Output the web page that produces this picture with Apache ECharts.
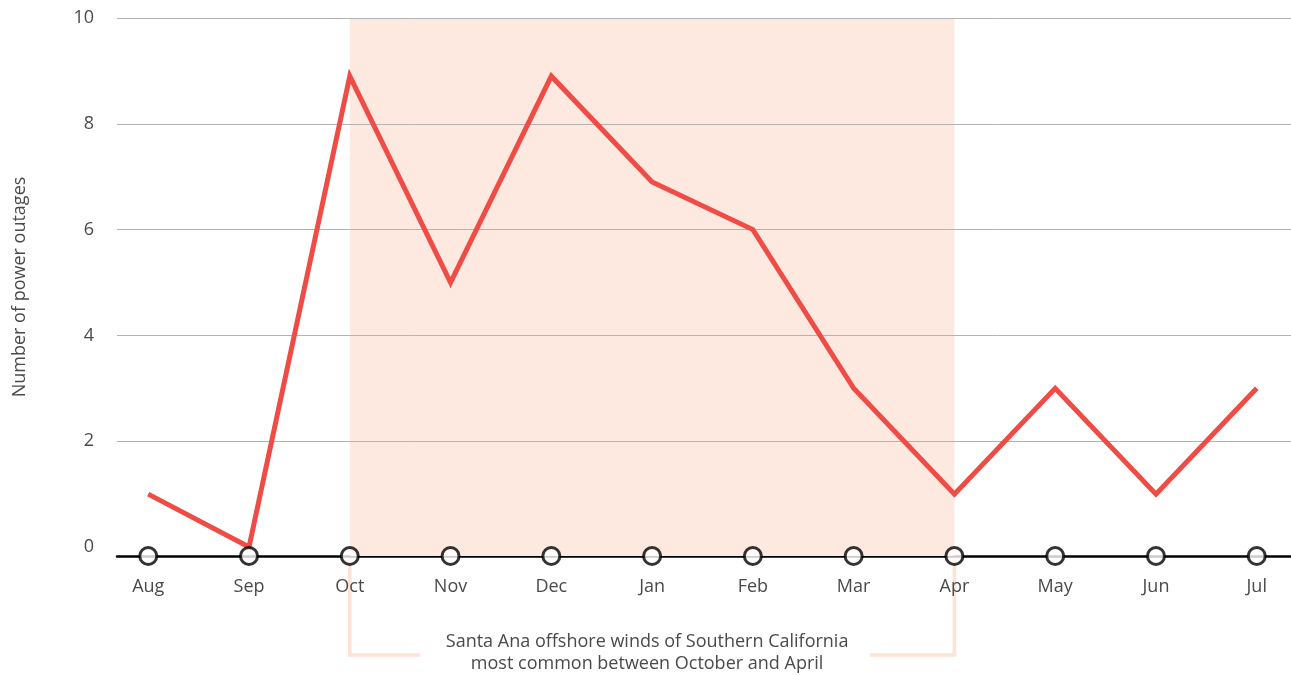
<!DOCTYPE html>
<html>
<head>
<meta charset="utf-8">
<script src="https://cdn.jsdelivr.net/npm/echarts@6/dist/echarts.min.js"></script>
<style>
  html, body { margin: 0; padding: 0; background: #fff; }
  #chart { width: 1291px; height: 675px; }
</style>
</head>
<body>
<div id="chart"></div>
<script>
// Monthly count of power outages, August through July
const months = ['Aug', 'Sep', 'Oct', 'Nov', 'Dec', 'Jan', 'Feb', 'Mar', 'Apr', 'May', 'Jun', 'Jul'];
const outages = [1, 0, 8.9, 5, 8.9, 6.9, 6, 3, 1, 3, 1, 3];
const yTicks = [0, 2, 4, 6, 8, 10];
const gridValues = [2, 4, 6, 8, 10];
// Santa Ana wind season: October to April
const seasonStart = 'Oct';
const seasonEnd = 'Apr';
const seasonNote = 'Santa Ana offshore winds of Southern California\nmost common between October and April';

const FONT = '"Open Sans", "Noto Sans", sans-serif';
const Y_MIN = -0.17;
const Y_MAX = 10;
const X_MIN = -0.31;
const X_MAX = 11.34;

const lineData = outages.map((v, i) => [i, v]);
const baseData = months.map((m, i) => [i, Y_MIN]);
const iStart = months.indexOf(seasonStart);
const iEnd = months.indexOf(seasonEnd);

const chart = echarts.init(document.getElementById('chart'));

chart.setOption({
  animation: false,
  backgroundColor: '#ffffff',
  textStyle: { fontFamily: FONT },
  grid: { left: 117, right: 0, top: 18, bottom: 119, containLabel: false },
  xAxis: {
    type: 'value',
    min: X_MIN,
    max: X_MAX,
    splitLine: { show: false },
    axisTick: { show: false },
    axisLine: { show: true, onZero: false, lineStyle: { color: '#000', width: 2.5 } },
    axisLabel: {
      customValues: months.map((m, i) => i),
      formatter: v => months[Math.round(v)] || '',
      color: '#4a4a4a',
      fontSize: 18,
      fontFamily: FONT,
      margin: 22
    }
  },
  yAxis: {
    type: 'value',
    min: Y_MIN,
    max: Y_MAX,
    name: 'Number of power outages',
    nameLocation: 'middle',
    nameGap: 88,
    nameTextStyle: { color: '#4a4a4a', fontSize: 18, fontFamily: FONT },
    axisLine: { show: false },
    axisTick: { show: false },
    splitLine: { show: false },
    axisLabel: {
      customValues: yTicks,
      color: '#4a4a4a',
      fontSize: 18,
      fontFamily: FONT,
      margin: 23
    }
  },
  series: [
    {
      // wind season shading
      type: 'line',
      data: [],
      z: 1,
      silent: true,
      markArea: {
        silent: true,
        itemStyle: { color: '#fde9e0' },
        data: [[{ xAxis: iStart }, { xAxis: iEnd }]]
      }
    },
    {
      // horizontal gridlines
      type: 'line',
      data: [],
      z: 2,
      silent: true,
      markLine: {
        silent: true,
        symbol: 'none',
        label: { show: false },
        lineStyle: { color: '#b3b3b3', width: 1, type: 'solid' },
        data: gridValues.map(v => ({ yAxis: v }))
      }
    },
    {
      type: 'line',
      data: lineData,
      z: 5,
      showSymbol: false,
      symbol: 'none',
      lineStyle: { color: '#ef4c46', width: 5, join: 'miter' },
      silent: true
    },
    {
      // month markers on the baseline
      type: 'scatter',
      data: baseData,
      z: 6,
      clip: false,
      symbol: 'circle',
      symbolSize: 17,
      itemStyle: { color: '#ffffff', borderColor: '#000', borderWidth: 3 },
      silent: true
    }
  ]
});

// Bracket under the season with its note
function drawBracket() {
  const xL = chart.convertToPixel({ xAxisIndex: 0 }, iStart);
  const xR = chart.convertToPixel({ xAxisIndex: 0 }, iEnd);
  const yTop = chart.convertToPixel({ yAxisIndex: 0 }, Y_MIN);
  const yBot = yTop + 99;
  const mid = (xL + xR) / 2;
  const gap = 232;
  const style = { stroke: '#fde2d6', lineWidth: 3.5, fill: null };
  chart.setOption({
    graphic: [
      { type: 'polyline', z: 0, silent: true,
        shape: { points: [[xL, yTop], [xL, yBot], [mid - gap, yBot]] }, style },
      { type: 'polyline', z: 0, silent: true,
        shape: { points: [[mid + gap - 14, yBot], [xR, yBot], [xR, yTop]] }, style },
      { type: 'text', silent: true, x: mid - 5, y: yBot - 2,
        style: { text: seasonNote, fill: '#4a4a4a', font: '18px ' + FONT,
                 align: 'center', verticalAlign: 'middle', lineHeight: 22 } }
    ]
  });
}
drawBracket();
</script>
</body>
</html>
